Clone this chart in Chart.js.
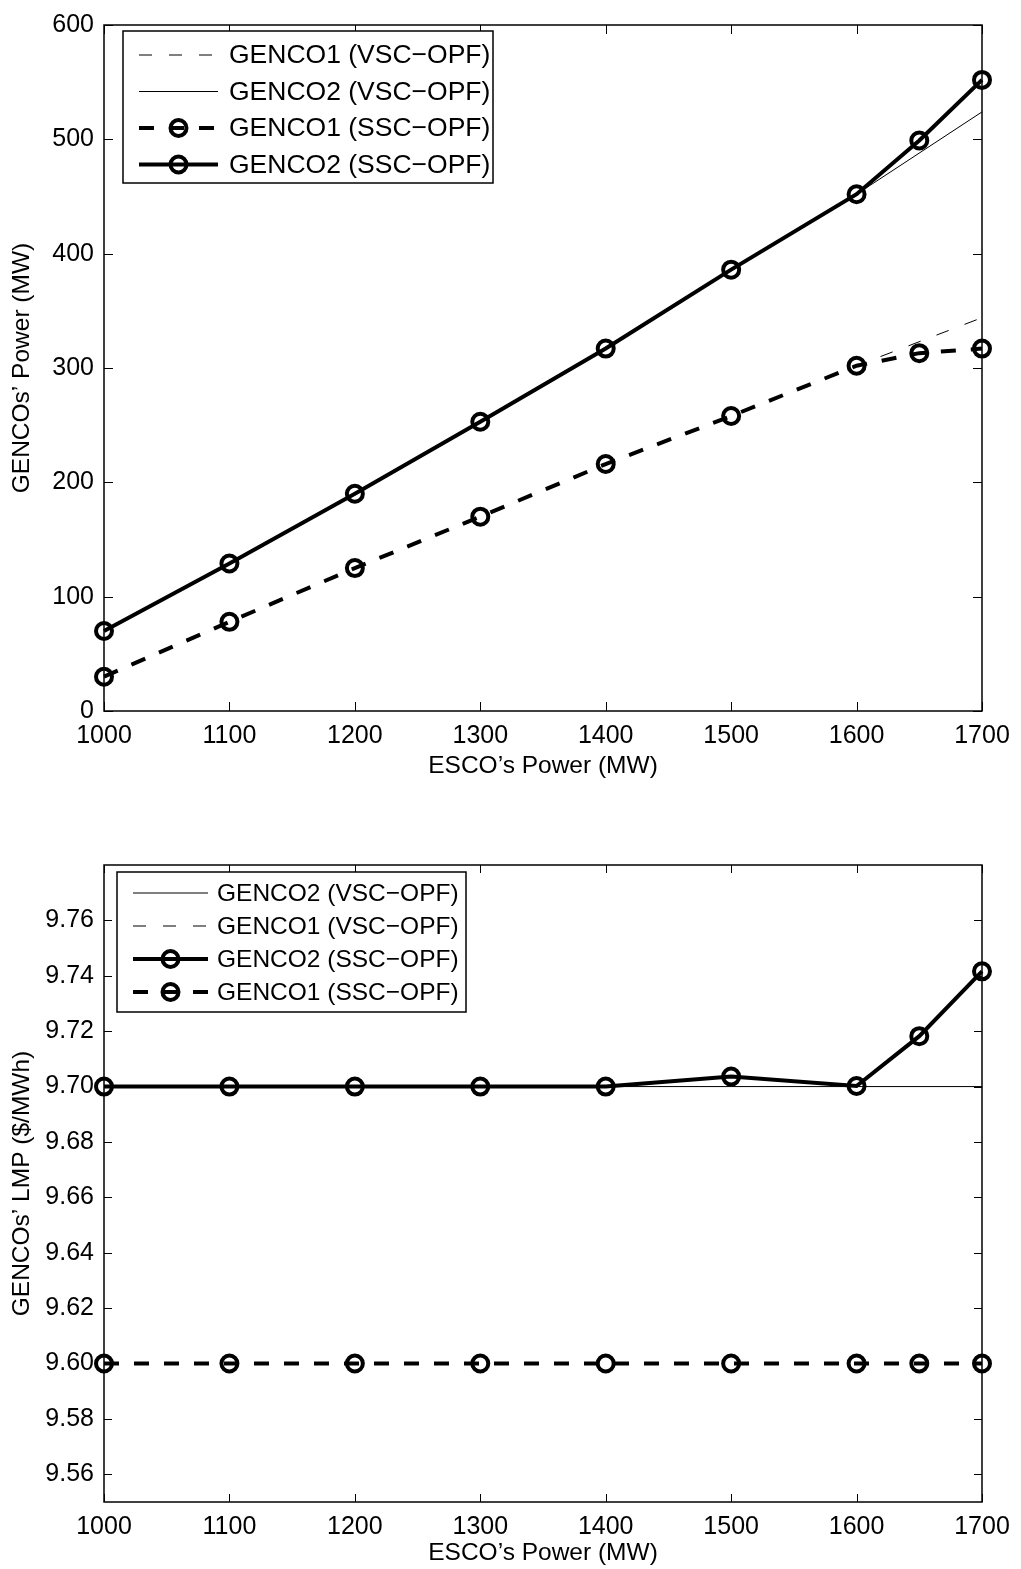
<!DOCTYPE html>
<html>
<head>
<meta charset="utf-8">
<script src="https://cdn.jsdelivr.net/npm/chart.js@4.4.1/dist/chart.umd.min.js"></script>
<style>
  html, body { margin: 0; padding: 0; background: #fff; }
  #wrap { position: relative; width: 1021px; height: 1569px; }
  canvas { position: absolute; left: 0; }
  #power-chart { top: 0; }
  #lmp-chart { top: 790px; }
</style>
</head>
<body>
<div id="wrap">
  <canvas id="power-chart" width="1021" height="790"></canvas>
  <canvas id="lmp-chart" width="1021" height="779"></canvas>
</div>
<script>
// data
const escoPower = [1000, 1100, 1200, 1300, 1400, 1500, 1600, 1650, 1700];
const escoPowerVsc = [1000, 1100, 1200, 1300, 1400, 1500, 1600, 1700];
const escoTicks = [1000, 1100, 1200, 1300, 1400, 1500, 1600, 1700];

const genco1PowerVsc = [30, 78, 125, 170, 216, 258, 302, 344];
const genco2PowerVsc = [70, 129, 190, 253, 317, 386, 452, 524];
const genco1PowerSsc = [30, 78, 125, 170, 216, 258, 302, 313, 317];
const genco2PowerSsc = [70, 129, 190, 253, 317, 386, 452, 499, 552];
const powerTicks = [0, 100, 200, 300, 400, 500, 600];

const genco2LmpVsc = [9.7, 9.7, 9.7, 9.7, 9.7, 9.7, 9.7, 9.7];
const genco1LmpVsc = [9.6, 9.6, 9.6, 9.6, 9.6, 9.6, 9.6, 9.6];
const genco2LmpSsc = [9.7, 9.7, 9.7, 9.7, 9.7, 9.7036, 9.7002, 9.7182, 9.7416];
const genco1LmpSsc = [9.6, 9.6, 9.6, 9.6, 9.6, 9.6, 9.6, 9.6, 9.6];
const lmpTicks = [9.56, 9.58, 9.6, 9.62, 9.64, 9.66, 9.68, 9.7, 9.72, 9.74, 9.76];

Chart.defaults.font.family = "'Liberation Sans', Arial, Helvetica, sans-serif";
Chart.defaults.color = "#000";

const toPoints = (xs, ys) => xs.map((x, i) => ({ x: x, y: ys[i] }));

function vscLine(label, xs, ys, dashed) {
  return {
    label: label,
    data: toPoints(xs, ys),
    borderColor: "#000",
    borderWidth: 1,
    borderDash: dashed ? [13, 17] : [],
    pointRadius: 0,
    pointHoverRadius: 0,
    order: 2,
    clip: false,
  };
}

function sscLine(label, xs, ys, dashed) {
  return {
    label: label,
    data: toPoints(xs, ys),
    borderColor: "#000",
    borderWidth: 4,
    borderDash: dashed ? [15, 15] : [],
    pointRadius: 8,
    pointHoverRadius: 8,
    pointBorderWidth: 4,
    pointBorderColor: "#000",
    pointBackgroundColor: "rgba(0,0,0,0)",
    order: 1,
    clip: false,
  };
}

// matlab style box with inward ticks on all four sides
const boxFrame = {
  id: "boxFrame",
  beforeDatasetsDraw(chart, args, opts) {
    const { ctx, chartArea: a, scales } = chart;
    const len = opts.tickLength;
    ctx.save();
    ctx.strokeStyle = "#000";
    ctx.lineWidth = 1;
    ctx.beginPath();
    scales.x.ticks.forEach((t) => {
      const px = Math.round(scales.x.getPixelForValue(t.value)) + 0.5;
      ctx.moveTo(px, a.bottom);
      ctx.lineTo(px, a.bottom - len);
      ctx.moveTo(px, a.top);
      ctx.lineTo(px, a.top + len);
    });
    scales.y.ticks.forEach((t) => {
      const py = Math.round(scales.y.getPixelForValue(t.value)) + 0.5;
      ctx.moveTo(a.left, py);
      ctx.lineTo(a.left + len, py);
      ctx.moveTo(a.right, py);
      ctx.lineTo(a.right - len, py);
    });
    ctx.stroke();
    ctx.lineWidth = 1.5;
    ctx.strokeRect(a.left, a.top, a.right - a.left, a.bottom - a.top);
    ctx.restore();
  },
};

// legend box drawn inside the plot, samples show line + marker
const boxLegend = {
  id: "boxLegend",
  afterDatasetsDraw(chart, args, o) {
    const ctx = chart.ctx;
    ctx.save();
    ctx.fillStyle = "#fff";
    ctx.fillRect(o.left, o.top, o.width, o.height);
    chart.data.datasets.forEach((ds, i) => {
      const y = o.firstRow + i * o.rowHeight;
      ctx.strokeStyle = "#000";
      ctx.lineWidth = ds.borderWidth;
      ctx.setLineDash(ds.borderDash);
      ctx.beginPath();
      ctx.moveTo(o.sampleStart, y);
      ctx.lineTo(o.sampleEnd, y);
      ctx.stroke();
      ctx.setLineDash([]);
      if (ds.pointRadius > 0) {
        ctx.lineWidth = ds.pointBorderWidth;
        ctx.beginPath();
        ctx.arc((o.sampleStart + o.sampleEnd) / 2, y, ds.pointRadius, 0, Math.PI * 2);
        ctx.stroke();
      }
      ctx.fillStyle = "#000";
      ctx.font = o.fontSize + "px " + Chart.defaults.font.family;
      ctx.textAlign = "left";
      ctx.textBaseline = "middle";
      ctx.fillText(ds.label, o.textStart, y + 1);
    });
    ctx.lineWidth = 1.5;
    ctx.strokeStyle = "#000";
    ctx.strokeRect(o.left, o.top, o.width, o.height);
    ctx.restore();
  },
};

function xAxis(height, titlePad) {
  return {
    type: "linear",
    min: 1000,
    max: 1700,
    afterBuildTicks: (s) => {
      s.ticks = escoTicks.map((v) => ({ value: v }));
    },
    grid: { display: false, drawTicks: false },
    border: { display: false },
    ticks: {
      padding: 10,
      font: { size: 25 },
      maxRotation: 0,
      autoSkip: false,
      callback: (v) => String(v),
    },
    title: {
      display: true,
      text: "ESCO’s Power (MW)",
      font: { size: 24.5 },
      padding: { top: 0, bottom: titlePad },
    },
    afterFit: (s) => {
      s.height = height;
    },
  };
}

function yAxis(min, max, tickList, title, fmt) {
  return {
    type: "linear",
    min: min,
    max: max,
    afterBuildTicks: (s) => {
      s.ticks = tickList.map((v) => ({ value: v }));
    },
    grid: { display: false, drawTicks: false },
    border: { display: false },
    ticks: { padding: 10, font: { size: 25 }, autoSkip: false, callback: fmt },
    title: {
      display: true,
      text: title,
      font: { size: 24.5 },
      padding: { top: 8, bottom: 0 },
    },
    afterFit: (s) => {
      s.width = 104;
    },
  };
}

// top chart: generation
new Chart(document.getElementById("power-chart"), {
  type: "line",
  data: {
    datasets: [
      vscLine("GENCO1 (VSC−OPF)", escoPowerVsc, genco1PowerVsc, true),
      vscLine("GENCO2 (VSC−OPF)", escoPowerVsc, genco2PowerVsc, false),
      sscLine("GENCO1 (SSC−OPF)", escoPower, genco1PowerSsc, true),
      sscLine("GENCO2 (SSC−OPF)", escoPower, genco2PowerSsc, false),
    ],
  },
  options: {
    responsive: false,
    animation: false,
    devicePixelRatio: 1,
    layout: { padding: { top: 15, right: 39, bottom: 0, left: 0 } },
    scales: {
      x: xAxis(79, 9),
      y: yAxis(0, 600, powerTicks, "GENCOs’ Power (MW)", (v) => String(v)),
    },
    plugins: {
      legend: { display: false },
      tooltip: { enabled: false },
      boxFrame: { tickLength: 9 },
      boxLegend: {
        left: 123, top: 31, width: 370, height: 152,
        firstRow: 55, rowHeight: 36.5,
        sampleStart: 139, sampleEnd: 218, textStart: 229, fontSize: 26.5,
      },
    },
  },
  plugins: [boxFrame, boxLegend],
});

// bottom chart: LMP
new Chart(document.getElementById("lmp-chart"), {
  type: "line",
  data: {
    datasets: [
      vscLine("GENCO2 (VSC−OPF)", escoPowerVsc, genco2LmpVsc, false),
      vscLine("GENCO1 (VSC−OPF)", escoPowerVsc, genco1LmpVsc, true),
      sscLine("GENCO2 (SSC−OPF)", escoPower, genco2LmpSsc, false),
      sscLine("GENCO1 (SSC−OPF)", escoPower, genco1LmpSsc, true),
    ],
  },
  options: {
    responsive: false,
    animation: false,
    devicePixelRatio: 1,
    layout: { padding: { top: 75, right: 39, bottom: 0, left: 0 } },
    scales: {
      x: xAxis(67, 1),
      y: yAxis(9.55, 9.78, lmpTicks, "GENCOs’ LMP ($/MWh)", (v) => v.toFixed(2)),
    },
    plugins: {
      legend: { display: false },
      tooltip: { enabled: false },
      boxFrame: { tickLength: 8 },
      boxLegend: {
        left: 117, top: 82, width: 349, height: 140,
        firstRow: 103, rowHeight: 33,
        sampleStart: 133, sampleEnd: 208, textStart: 217, fontSize: 24.5,
      },
    },
  },
  plugins: [boxFrame, boxLegend],
});
</script>
</body>
</html>
